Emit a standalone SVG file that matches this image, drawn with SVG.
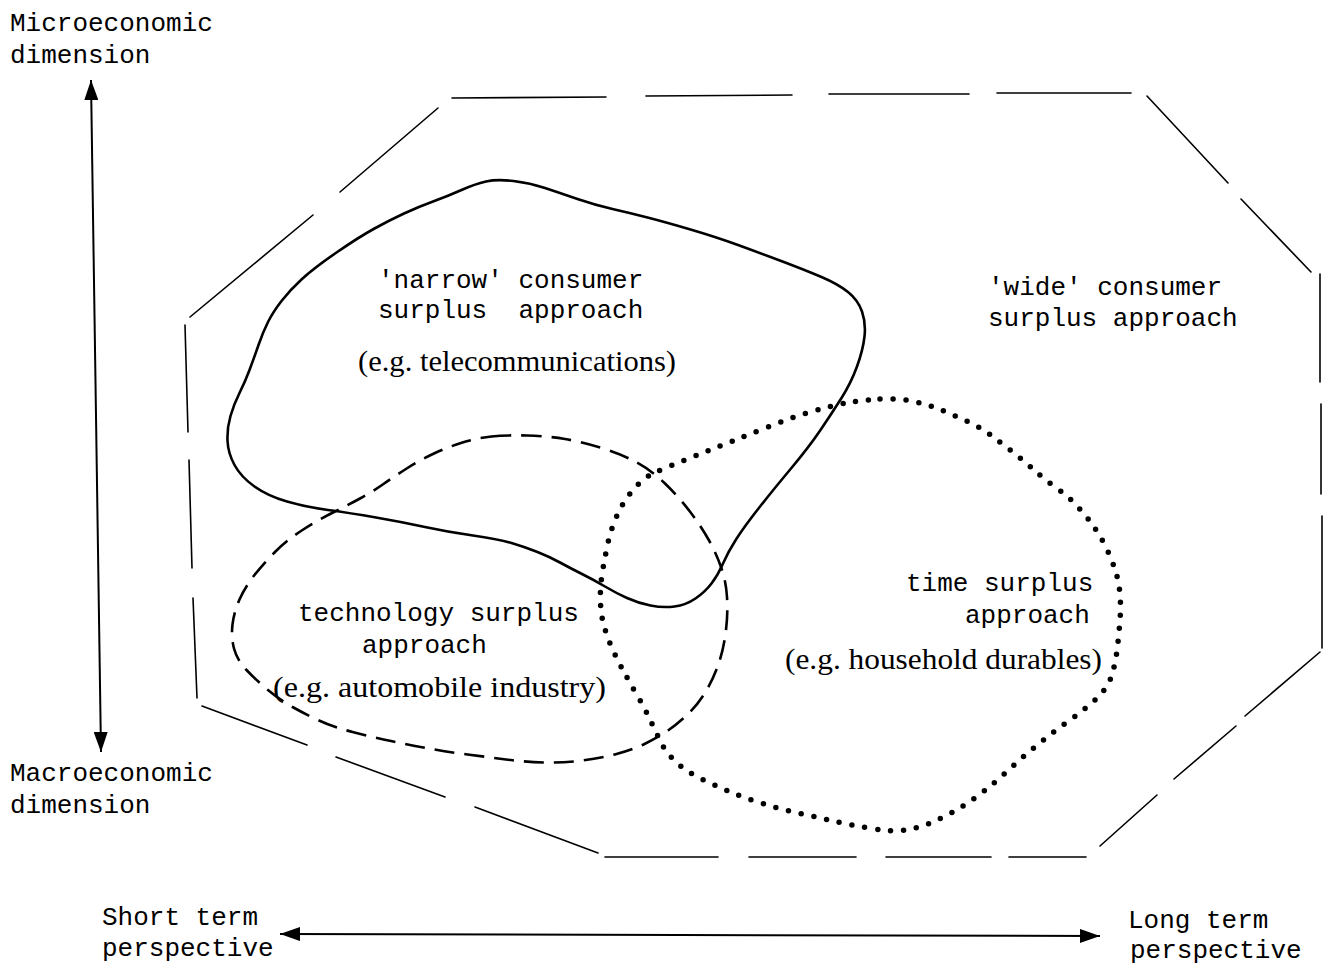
<svg xmlns="http://www.w3.org/2000/svg" width="1333" height="966" viewBox="0 0 1333 966">
<style>
.mono{font-family:"Liberation Mono","DejaVu Sans Mono",monospace;font-size:26px;fill:#000}
.ser{font-family:"Liberation Serif","DejaVu Serif",serif;font-size:29px;fill:#000}
.oct{stroke:#000;stroke-width:1.6;fill:none;stroke-linecap:round}
.solid{stroke:#000;stroke-width:2.6;fill:none}
.dash{stroke:#000;stroke-width:2.6;fill:none;stroke-dasharray:20 10}
.dot{stroke:#000;stroke-width:5.5;fill:none;stroke-linecap:round;stroke-dasharray:0 13}
.axis{stroke:#000;stroke-width:2;fill:none}
</style>
<defs>
<marker id="ah" viewBox="0 0 20 14" refX="20" refY="7" markerWidth="20" markerHeight="14" orient="auto-start-reverse" markerUnits="userSpaceOnUse">
<path d="M0,0 L20,7 L0,14 Z" fill="#000"/>
</marker>
</defs>
<rect width="1333" height="966" fill="#fff"/>

<g id="wide-consumer-surplus">
<g class="oct">
<line x1="190" y1="317" x2="313" y2="215"/>
<line x1="340" y1="192" x2="438" y2="108"/>
<line x1="452" y1="98" x2="606" y2="97"/>
<line x1="646" y1="96" x2="792" y2="95"/>
<line x1="829" y1="94" x2="969" y2="94"/>
<line x1="997" y1="93" x2="1131" y2="93"/>
<line x1="1147" y1="96" x2="1228" y2="183"/>
<line x1="1241" y1="199" x2="1311" y2="272"/>
<line x1="1320" y1="274" x2="1320" y2="382"/>
<line x1="1321" y1="404" x2="1321" y2="494"/>
<line x1="1322" y1="516" x2="1322" y2="648"/>
<line x1="1320" y1="652" x2="1245" y2="716"/>
<line x1="1236" y1="726" x2="1174" y2="779"/>
<line x1="1157" y1="795" x2="1100" y2="846"/>
<line x1="1086" y1="857" x2="1009" y2="857"/>
<line x1="991" y1="857" x2="886" y2="857"/>
<line x1="856" y1="857" x2="749" y2="857"/>
<line x1="718" y1="857" x2="605" y2="857"/>
<line x1="598" y1="853" x2="475" y2="807"/>
<line x1="445" y1="797" x2="336" y2="757"/>
<line x1="307" y1="745" x2="202" y2="706"/>
<line x1="197" y1="698" x2="193" y2="598"/>
<line x1="192" y1="568" x2="189" y2="460"/>
<line x1="188" y1="432" x2="185" y2="325"/>
</g>
<text class="mono" x="988" y="295">'wide' consumer</text>
<text class="mono" x="988" y="326">surplus approach</text>
</g>

<g id="narrow-consumer-surplus">
<path class="solid" d="M486,181.5 Q497,179 513.5,181 Q530,183 545,188 Q560,193 577.5,199 Q595,205 612.5,209 Q630,213 647.5,217.5 Q665,222 690.5,229.5 Q716,237 738,245 Q760,253 782.5,261.5 Q805,270 821.5,277 Q838,284 848,292 Q858,300 862,311.5 Q866,323 864.5,336.5 Q863,350 857,366.5 Q851,383 841.5,398 Q832,413 820.5,430 Q809,447 791,468.5 Q773,490 758.5,508.5 Q744,527 736,539.5 Q728,552 723,563.5 Q718,575 711.5,583.5 Q705,592 695.5,598.5 Q686,605 674.5,606.5 Q663,608 650.5,605.5 Q638,603 627,598 Q616,593 605,586.5 Q594,580 582,574 Q570,568 560,562.5 Q550,557 537.5,552 Q525,547 511.5,543 Q498,539 473,535.5 Q448,532 425,527 Q402,522 376,517.5 Q350,513 328,510 Q306,507 287,501.5 Q268,496 254.5,486.5 Q241,477 234.5,465 Q228,453 227.5,440.5 Q227,428 230.5,416 Q234,404 239.5,393 Q245,382 249.5,370 Q254,358 258.5,345 Q263,332 268,322 Q273,312 281.5,301 Q290,290 302,279 Q314,268 336.5,252.5 Q359,237 374.5,228.5 Q390,220 404,213.5 Q418,207 433,201.5 Q448,196 461.5,190 Q475,184 486,181.5 Z"/>
<text class="mono" x="378" y="288">'narrow' consumer</text>
<text class="mono" x="378" y="318" xml:space="preserve">surplus  approach</text>
<text class="ser" x="358" y="371" textLength="318" lengthAdjust="spacingAndGlyphs">(e.g. telecommunications)</text>
</g>

<g id="technology-surplus">
<path class="dash" d="M491.5,436.5 Q506,435 527,435.5 Q548,436 565,439 Q582,442 601.5,448 Q621,454 636,462 Q651,470 664.5,483 Q678,496 689.5,511 Q701,526 708.5,539.5 Q716,553 721,567 Q726,581 727,597 Q728,613 726,630 Q724,647 719.5,661 Q715,675 707.5,688.5 Q700,702 689.5,712.5 Q679,723 668,730.5 Q657,738 644.5,744 Q632,750 616.5,754 Q601,758 582,760.5 Q563,763 544,762.5 Q525,762 506,759.5 Q487,757 467.5,754.5 Q448,752 429,748.5 Q410,745 391,741 Q372,737 352.5,732 Q333,727 319,720.5 Q305,714 292.5,707 Q280,700 268,690 Q256,680 246.5,670 Q237,660 234,648.5 Q231,637 232.5,624.5 Q234,612 239.5,599.5 Q245,587 254.5,575 Q264,563 275.5,551.5 Q287,540 302.5,530 Q318,520 333,512.5 Q348,505 360,498.5 Q372,492 383.5,484 Q395,476 407.5,468 Q420,460 434,453.5 Q448,447 462.5,442.5 Q477,438 491.5,436.5 Z"/>
<text class="mono" x="298" y="621">technology surplus</text>
<text class="mono" x="362" y="653">approach</text>
<text class="ser" x="273" y="697" textLength="333" lengthAdjust="spacingAndGlyphs">(e.g. automobile industry)</text>
</g>

<g id="time-surplus">
<path class="dot" d="M880,399 Q898,398 914,401.5 Q930,405 942.5,410.5 Q955,416 967.5,421.5 Q980,427 990.5,435 Q1001,443 1012,451.5 Q1023,460 1033.5,469.5 Q1044,479 1056.5,488 Q1069,497 1078,507 Q1087,517 1094,527 Q1101,537 1106.5,548.5 Q1112,560 1115.5,571 Q1119,582 1120,594.5 Q1121,607 1120,620 Q1119,633 1117.5,646.5 Q1116,660 1112.5,673 Q1109,686 1098.5,696.5 Q1088,707 1072,718.5 Q1056,730 1041,742 Q1026,754 1012,767 Q998,780 983.5,791.5 Q969,803 956.5,810 Q944,817 931.5,822.5 Q919,828 905,830 Q891,832 871,828.5 Q851,825 833.5,821 Q816,817 798,813 Q780,809 762.5,803.5 Q745,798 730.5,792 Q716,786 701.5,779 Q687,772 676.5,762.5 Q666,753 660.5,741.5 Q655,730 649.5,718.5 Q644,707 637,695 Q630,683 624.5,673 Q619,663 614,652.5 Q609,642 605.5,631 Q602,620 601,610 Q600,600 600.5,590 Q601,580 603,568.5 Q605,557 607.5,545 Q610,533 614.5,521.5 Q619,510 624.5,501.5 Q630,493 637,485.5 Q644,478 652,474 Q660,470 670,466 Q680,462 695,456 Q710,450 729,442.5 Q748,435 769,426.5 Q790,418 810,412 Q830,406 846,403 Q862,400 880,399 Z"/>
<text class="mono" x="906" y="591">time surplus</text>
<text class="mono" x="965" y="623">approach</text>
<text class="ser" x="785" y="669" textLength="317" lengthAdjust="spacingAndGlyphs">(e.g. household durables)</text>
</g>

<g id="axis-labels">
<text class="mono" x="10" y="31">Microeconomic</text>
<text class="mono" x="10" y="63">dimension</text>
<text class="mono" x="10" y="781">Macroeconomic</text>
<text class="mono" x="10" y="813">dimension</text>
<text class="mono" x="102" y="925">Short term</text>
<text class="mono" x="102" y="956">perspective</text>
<text class="mono" x="1128" y="928">Long term</text>
<text class="mono" x="1130" y="958">perspective</text>
</g>

<g id="connectors">
<line class="axis" x1="91" y1="80" x2="101" y2="752" marker-start="url(#ah)" marker-end="url(#ah)"/>
<line class="axis" x1="280" y1="934" x2="1100" y2="936" marker-start="url(#ah)" marker-end="url(#ah)"/>
</g>
</svg>
